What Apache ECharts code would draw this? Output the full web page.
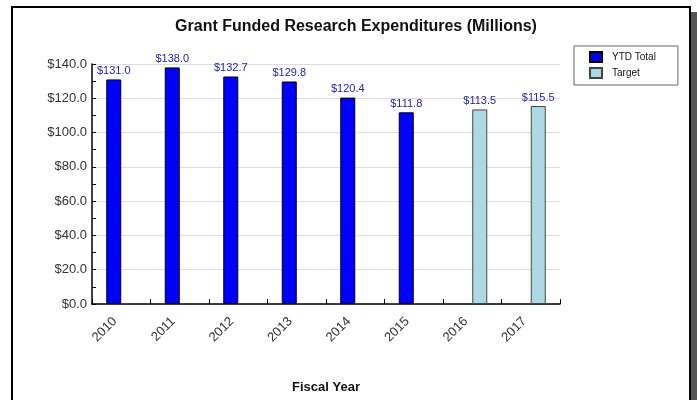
<!DOCTYPE html>
<html>
<head>
<meta charset="utf-8">
<script src="https://cdn.jsdelivr.net/npm/echarts@6/dist/echarts.min.js"></script>
<style>
html,body{margin:0;padding:0;background:#fff;}
#chart{width:697px;height:400px;}
</style>
</head>
<body>
<div id="chart"></div>
<script>
var categories = ['2010','2011','2012','2013','2014','2015','2016','2017'];
var ytdTotal = [131.0, 138.0, 132.7, 129.8, 120.4, 111.8, null, null];
var target = [null, null, null, null, null, null, 113.5, 115.5];
var yTicks = [0, 20, 40, 60, 80, 100, 120, 140];

var chart = echarts.init(document.getElementById('chart'));
var fontFam = '"Liberation Sans", Arial, sans-serif';
var labelCfg = {
  show: true, position: 'top', distance: 3,
  color: '#2424a8', fontSize: 11, fontFamily: fontFam,
  formatter: function(p){ return p.value == null ? '' : '$' + p.value.toFixed(1); }
};
chart.setOption({
  animation: false,
  backgroundColor: 'transparent',
  graphic: [
    { type: 'rect', z: -10, shape: { x: 690, y: 12, width: 7, height: 400 }, style: { fill: '#555555' } },
    { type: 'rect', z: -9, shape: { x: 12, y: 7, width: 678, height: 400 }, style: { fill: '#ffffff', stroke: '#000000', lineWidth: 2 } }
  ],
  title: {
    text: 'Grant Funded Research Expenditures (Millions)',
    left: 351, top: 14, textAlign: 'center',
    textStyle: { fontFamily: fontFam, fontSize: 16, fontWeight: 'bold', color: '#111' }
  },
  legend: {
    orient: 'vertical', left: 574, top: 46, icon: 'rect',
    itemWidth: 12, itemHeight: 10, itemGap: 4,
    padding: [5, 22, 6, 15],
    borderColor: '#666', borderWidth: 1,
    textStyle: { fontFamily: fontFam, fontSize: 10, color: '#111', padding: [0, 0, 0, 5] },
    data: ['YTD Total', 'Target']
  },
  grid: { left: 92, right: 137, top: 64, bottom: 96 },
  xAxis: {
    type: 'category', data: categories,
    name: 'Fiscal Year', nameLocation: 'middle', nameGap: 77,
    nameTextStyle: { fontFamily: fontFam, fontSize: 13, fontWeight: 'bold', color: '#111' },
    axisLine: { lineStyle: { color: '#000', width: 1.5 } },
    axisTick: { show: true, inside: true, length: 5, lineStyle: { color: '#000' } },
    axisLabel: { rotate: 45, fontFamily: fontFam, fontSize: 13, color: '#333', margin: 9, padding: [0, 9, 0, 0] }
  },
  yAxis: {
    type: 'value', min: 0, max: 140, interval: 20,
    axisLine: { show: true, lineStyle: { color: '#000', width: 1.5 } },
    axisTick: { show: true, inside: true, length: 4, lineStyle: { color: '#000' } },
    minorTick: { show: true, splitNumber: 2, length: 4, lineStyle: { color: '#000' } },
    splitLine: { lineStyle: { color: '#dddddd' } },
    axisLabel: {
      fontFamily: fontFam, fontSize: 13, color: '#333', margin: 5,
      formatter: function(v){ return yTicks.indexOf(v) >= 0 ? '$' + v.toFixed(1) : ''; }
    }
  },
  series: [
    { name: 'YTD Total', type: 'bar', data: ytdTotal, barWidth: 15, barGap: '0%',
      itemStyle: { color: '#0000ff', borderColor: '#000', borderWidth: 1 }, label: labelCfg },
    { name: 'Target', type: 'bar', data: target, barWidth: 15, barGap: '0%',
      itemStyle: { color: '#add8e6', borderColor: '#444', borderWidth: 1 }, label: labelCfg }
  ]
});
</script>
</body>
</html>
